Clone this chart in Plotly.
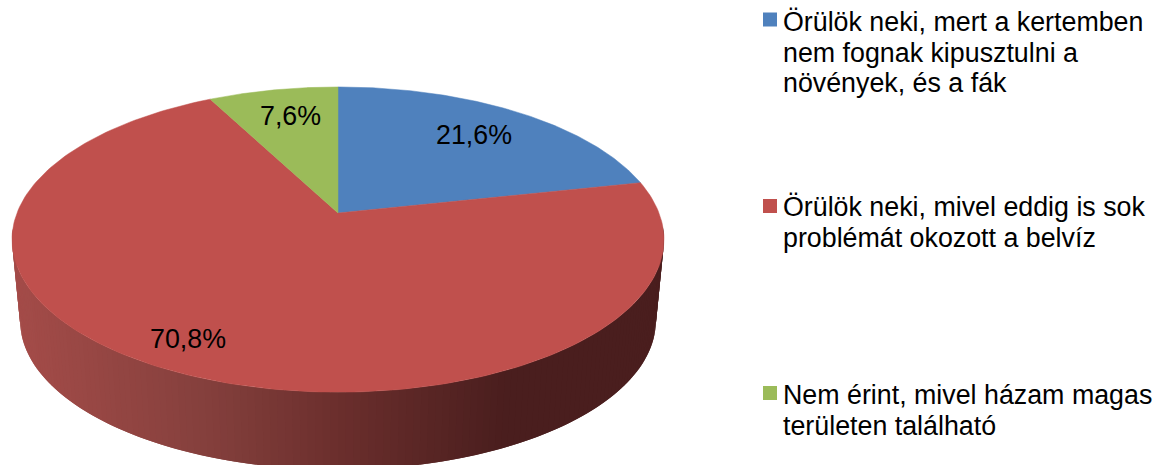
import numpy as np
import plotly.graph_objects as go

categories = [
    "Örülök neki, mert a kertemben<br>nem fognak kipusztulni a<br>növények, és a fák",
    "Örülök neki, mivel eddig is sok<br>problémát okozott a belvíz",
    "Nem érint, mivel házam magas<br>területen található",
]
values = [21.6, 70.8, 7.6]
value_labels = ["21,6%", "70,8%", "7,6%"]
colors = ["#4F81BD", "#C0504D", "#9BBB59"]

W, H = 1162, 465
CX, CY = 338, 213
A, B, K = 148, 321, 0.174
FONT = "Liberation Sans"
FS = 26.8


def project(theta, z=0.0):
    x, y = np.sin(theta), np.cos(theta)
    w = 1 + K * y
    s = 1 - 0.025 * z
    return CX + s * B * x / w, CY + 82 * z - s * A * y / w


fig = go.Figure()

# side wall (only the red slice faces the viewer), shaded left to right
stops_x = [10, 200, 340, 500, 700]
stops_rgb = np.array([[165, 76, 73], [133, 64, 61], [106, 46, 44], [74, 30, 30], [74, 30, 30]])
edges = np.radians(np.linspace(265, 95, 151))
for i in range(len(edges) - 1):
    a0 = edges[i]
    a1 = edges[min(i + 2, len(edges) - 1)]  # overlap the next strip to avoid seams
    xa, ya = project(np.array([a0, a1]), 0)
    xb, yb = project(np.array([a1, a0]), 1)
    xm = (xa[0] + xb[1]) / 2
    rgb = [int(round(np.interp(xm, stops_x, stops_rgb[:, c]))) for c in range(3)]
    col = f"rgb({rgb[0]},{rgb[1]},{rgb[2]})"
    fig.add_trace(go.Scatter(
        x=list(xa) + list(xb), y=list(ya) + list(yb), mode="lines", fill="toself",
        fillcolor=col, line=dict(color=col, width=0), hoverinfo="skip", showlegend=False))

# top faces
start = 0.0
total = sum(values)
for v, c in zip(values, colors):
    end = start + v / total * 2 * np.pi
    t = np.linspace(start, end, 200)
    px, py = project(t)
    fig.add_trace(go.Scatter(
        x=[CX] + list(px) + [CX], y=[CY] + list(py) + [CY], mode="lines", fill="toself",
        fillcolor=c, line=dict(color=c, width=0.5), hoverinfo="skip", showlegend=False))
    start = end

# legend swatches
legend_y = [19.5, 206, 393]
fig.add_trace(go.Scatter(
    x=[770, 770, 770], y=legend_y, mode="markers",
    marker=dict(symbol="square", size=14, color=colors), hoverinfo="skip", showlegend=False))

annotations = []
for name, ty in zip(categories, [22, 207, 395]):
    for j, line in enumerate(name.split("<br>")):
        annotations.append(dict(x=781.5, y=ty + j * 30.5, xref="x", yref="y", text=line, showarrow=False,
                                xanchor="left", yanchor="middle", align="left",
                                font=dict(family=FONT, size=FS, color="black"), borderpad=0))
for lab, (lx, ly) in zip(value_labels, [(474, 135), (188, 339), (290, 116)]):
    annotations.append(dict(x=lx, y=ly, xref="x", yref="y", text=lab, showarrow=False,
                            xanchor="center", yanchor="middle",
                            font=dict(family=FONT, size=FS, color="black")))

fig.update_layout(
    width=W, height=H, margin=dict(l=0, r=0, t=0, b=0),
    paper_bgcolor="white", plot_bgcolor="white", showlegend=False,
    xaxis=dict(range=[0, W], visible=False, fixedrange=True),
    yaxis=dict(range=[H, 0], visible=False, fixedrange=True),
    annotations=annotations,
)
fig.write_html("out.html", config=dict(displayModeBar=False),
               post_script="document.body.style.margin='0';document.body.style.overflow='hidden';")
